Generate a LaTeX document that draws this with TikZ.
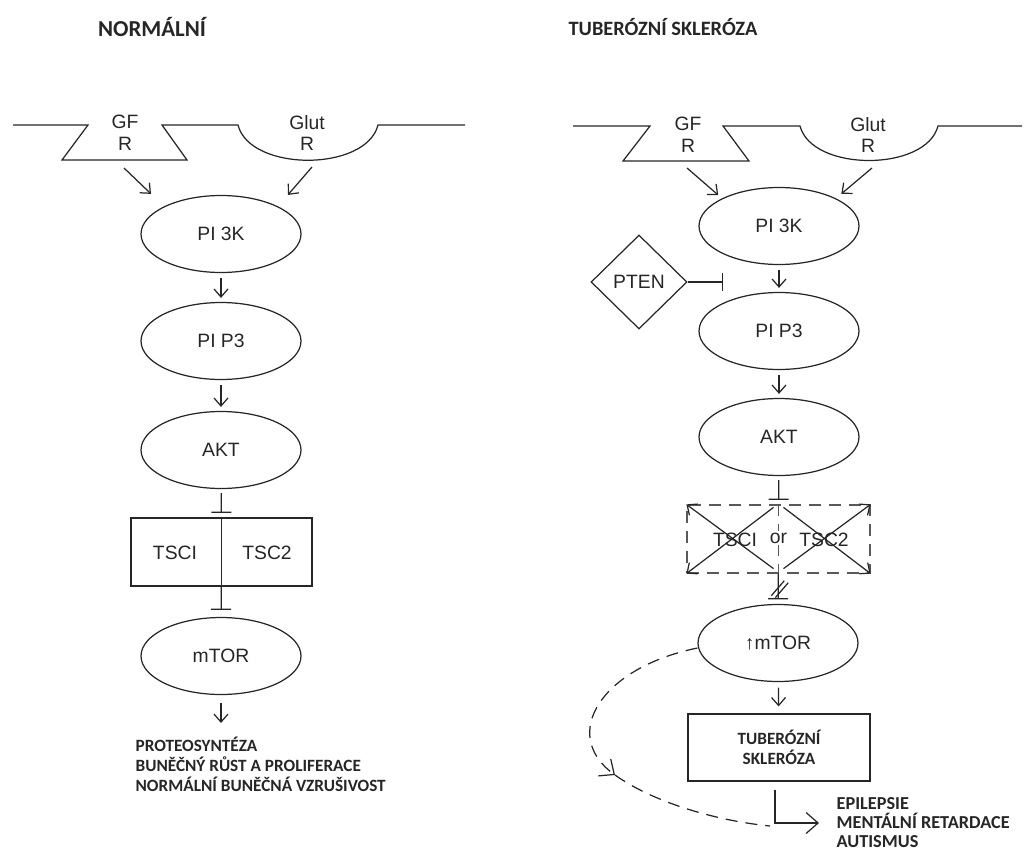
\documentclass[tikz,border=0pt]{standalone}
\usepackage{fontspec}
\setmainfont{Liberation Sans}
\newfontfamily\calibfont{Carlito}
\usetikzlibrary{shapes.geometric,arrows.meta,calc}

\begin{document}
\begin{tikzpicture}[x=0.02cm,y=-0.02cm,line width=0.7pt,color=black!85,
  >={Straight Barb[length=1.6mm,width=2.8mm]},
  mol/.style={draw,ellipse,minimum width=3.2cm,minimum height=1.54cm,inner sep=0pt,
    font=\fontsize{11}{12.5}\selectfont},
  lbl/.style={align=center,font=\fontsize{11}{12.5}\selectfont},
  headtxt/.style={font=\calibfont\bfseries\fontsize{13}{15}\selectfont},
  outtext/.style={align=left,inner sep=0pt,font=\calibfont\bfseries\fontsize{9.8}{11.4}\selectfont},
  act/.style={->,shorten <=1mm,shorten >=0.8mm},
  bigact/.style={-{Straight Barb[length=2.4mm,width=4.2mm]}},
  inh/.style={-{Bar[width=4mm]},shorten <=0.8mm,shorten >=0.9mm},
  dsh/.style={dash pattern=on 2.4mm off 1.6mm}]
\useasboundingbox (0,0) rectangle (1027,852);

% normalni
\node[headtxt] (titleA) at (152,27) {NORMÁLNÍ};
\draw (13,125) -- (88,125) -- (62,160) -- (187,160) -- (162,125) -- (238,125)
  .. controls (250,172) and (366,172) .. (378,125) -- (465,125);
\node[lbl] (gfA) at (125,133) {GF\\R};
\node[lbl] (glutA) at (307,133) {Glut\\R};
\node[mol] (pi3kA) at (221,234) {PI 3K};
\node[mol] (pip3A) at (221,341) {PI P3};
\node[mol] (aktA) at (221,450) {AKT};
\node[draw,minimum width=3.62cm,minimum height=1.36cm] (tscA) at (221.5,552) {};
\node[lbl] (tsc1A) at (175,553) {TSCI};
\node[lbl] (tsc2A) at (267,553) {TSC2};
\node[mol] (mtorA) at (221,656) {mTOR};
\node[outtext,anchor=north west] (resA) at (135,736)
  {PROTEOSYNTÉZA\\BUNĚČNÝ RŮST A PROLIFERACE\\NORMÁLNÍ BUNĚČNÁ VZRUŠIVOST};

\coordinate (gfinA) at (124,168);
\coordinate (glinA) at (312,167);
\draw[->,shorten >=3.6mm] (gfinA) -- (pi3kA.north west);
\draw[->,shorten >=3mm] (glinA) -- (pi3kA.north east);
\draw[act] (pi3kA) -- (pip3A);
\draw[act] (pip3A) -- (aktA);
\draw[inh] (aktA) -- (tscA);
\draw (tscA.north) -- (tscA.south);
\draw[inh,shorten <=0pt,shorten >=1.4mm] (tscA) -- (mtorA);
\draw[act,shorten <=1.6mm,shorten >=2.6mm] (mtorA) -- (mtorA |- resA.north);

% tuberozni skleroza
\node[headtxt,font=\calibfont\bfseries\fontsize{11.6}{14}\selectfont] (titleB) at (663,27) {TUBERÓZNÍ SKLERÓZA};
\draw (573,126) -- (650,126) -- (623,161) -- (749,161) -- (723,126) -- (800,126)
  .. controls (812,172) and (926,172) .. (938,126) -- (1022,126);
\node[lbl] (gfB) at (688,135) {GF\\R};
\node[lbl] (glutB) at (868,135) {Glut\\R};
\node[mol] (pi3kB) at (779,226) {PI 3K};
\node[draw,diamond,minimum width=1.92cm,minimum height=1.88cm,inner sep=0pt,
  font=\fontsize{11}{12.5}\selectfont] (ptenB) at (639,282) {PTEN};
\node[mol] (pip3B) at (779,331) {PI P3};
\node[mol] (aktB) at (779,437) {AKT};
\node[draw=black!65,dsh,minimum width=3.66cm,minimum height=1.36cm] (tscB) at (778.5,539) {};
\draw[black!65,dsh] (tscB.north) -- (tscB.south);
\node[lbl] (tsc1B) at (735,540) {TSCI};
\node[lbl] (tsc2B) at (824,540) {TSC2};
\node[lbl,fill=white,inner sep=1pt] (orB) at (778.5,538) {or};
\draw[->] ([xshift=-0.1cm,yshift=0.1cm]tscB.south) -- (tscB.north west);
\draw[->] ([xshift=-0.1cm,yshift=-0.06cm]tscB.north) -- (tscB.south west);
\draw[->] ([xshift=0.1cm,yshift=-0.06cm]tscB.north) -- (tscB.south east);
\draw[->] ([xshift=0.1cm,yshift=0.1cm]tscB.south) -- (tscB.north east);
\node[mol] (mtorB) at (778,643) {↑mTOR};
\node[draw,minimum width=3.64cm,minimum height=1.34cm,align=center,
  font=\calibfont\bfseries\fontsize{9.8}{11.4}\selectfont] (tsB) at (779,747.5)
  {TUBERÓZNÍ\\SKLERÓZA};
\node[outtext,anchor=west,font=\calibfont\bfseries\fontsize{10.4}{10.8}\selectfont] (symB) at (836,823)
  {EPILEPSIE\\MENTÁLNÍ RETARDACE\\AUTISMUS};

\coordinate (gfinB) at (687,168);
\coordinate (glinB) at (872,168);
\draw[->,shorten >=1mm] (gfinB) -- (pi3kB.north west);
\draw[->,shorten >=1.4mm] (glinB) -- (pi3kB.north east);
\draw[act] (pi3kB) -- (pip3B);
\coordinate (ptenhit) at (723,282);
\draw[-{Bar[width=3.6mm]}] (ptenB.east) -- (ptenhit);
\draw[act] (pip3B) -- (aktB);
\draw[inh] (aktB) -- (tscB);
\draw[inh,shorten <=0pt,shorten >=0.9mm] (tscB) -- (mtorB);
\path (tscB.south) -- (mtorB.north) coordinate[pos=0.5] (cutB);
\draw ([shift={(-7,7)}]cutB) -- ++(13,-15);
\draw ([shift={(-3,9)}]cutB) -- ++(13,-15);
\draw[act,shorten <=1.1mm,shorten >=1.4mm] (mtorB) -- (tsB);
\draw[bigact,shorten >=3.4mm] ([xshift=-0.08cm,yshift=-0.16cm]tsB.south) |- (symB.west);
\coordinate (dtipB) at (615,775);
\coordinate (djoinB) at (770,826);
\draw[dsh,bigact] ([yshift=-0.1cm]mtorB.west) .. controls (600,668) and (560,735) .. (dtipB);
\draw[dsh] (dtipB) .. controls (650,800) and (710,820) .. (djoinB);
\end{tikzpicture}
\end{document}
